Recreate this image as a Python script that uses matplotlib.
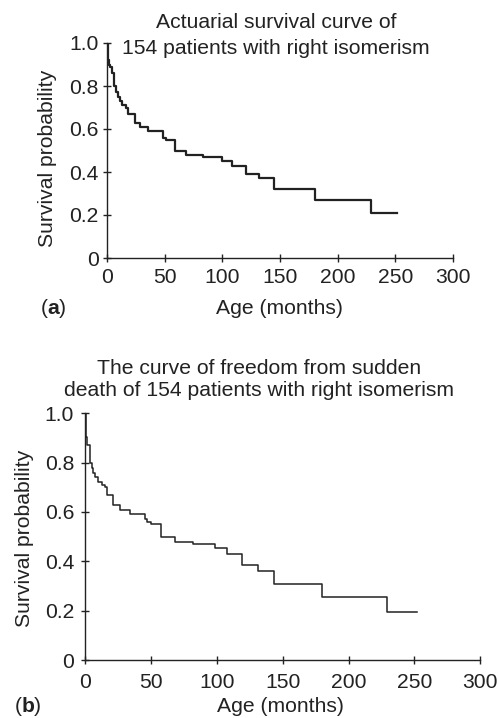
import matplotlib
matplotlib.use('Agg')
import matplotlib.pyplot as plt

# panel (a) - actuarial survival
age_a = [0, 0.5, 1.5, 2.6, 4.1, 6.5, 8.0, 9.8, 11.3, 12.7, 16.5, 18.5, 24.3, 28.6,
         35.9, 48.3, 50.9, 59.0, 68.6, 83.6, 99.5, 108.2, 120.6, 132.2, 144.4,
         180.5, 228.8, 251.4]
surv_a = [1.0, 0.92, 0.90, 0.89, 0.86, 0.80, 0.77, 0.75, 0.73, 0.71, 0.70, 0.67, 0.63,
          0.61, 0.59, 0.56, 0.55, 0.50, 0.48, 0.47, 0.45, 0.43, 0.39, 0.37, 0.32,
          0.27, 0.21, 0.21]

# panel (b) - freedom from sudden death
age_b = [0, 0.3, 1.5, 3.5, 4.8, 6.1, 7.3, 9.4, 12.4, 14.9, 16.7, 21.3, 26.3, 33.9,
         45.3, 46.6, 49.6, 57.2, 68.1, 82.0, 98.5, 107.4, 119.3, 131.4, 143.3,
         180.0, 228.9, 252.2]
surv_b = [1.0, 0.905, 0.87, 0.80, 0.78, 0.76, 0.74, 0.72, 0.71, 0.70, 0.67, 0.63, 0.61,
          0.59, 0.57, 0.56, 0.55, 0.50, 0.48, 0.47, 0.455, 0.43, 0.385, 0.36, 0.31,
          0.255, 0.196, 0.196]

xticks = [0, 50, 100, 150, 200, 250, 300]
yticks = [0, 0.2, 0.4, 0.6, 0.8, 1.0]
ylabels = ['0', '0.2', '0.4', '0.6', '0.8', '1.0']

plt.rcParams['font.family'] = ['Liberation Sans', 'DejaVu Sans']
plt.rcParams['mathtext.fontset'] = 'custom'
plt.rcParams['mathtext.rm'] = 'Liberation Sans'
plt.rcParams['mathtext.bf'] = 'Liberation Sans:bold'
fs = 15.2
col = '#222222'

fig = plt.figure(figsize=(4.99, 7.18), dpi=100)
W, H = 499, 718

def setup(ax, xpad, ypad):
    ax.set_xlim(0, 300)
    ax.set_ylim(0, 1.0)
    ax.set_xticks(xticks)
    ax.set_yticks(yticks)
    ax.set_yticklabels(ylabels)
    for s in ['top', 'right']:
        ax.spines[s].set_visible(False)
    for s in ['left', 'bottom']:
        ax.spines[s].set_linewidth(1.0)
        ax.spines[s].set_color(col)
    ax.tick_params(direction='inout', length=6, width=1.0, colors=col,
                   labelsize=fs, labelcolor=col)
    ax.tick_params(axis='x', pad=xpad)
    ax.tick_params(axis='y', pad=ypad)
    ax.patch.set_alpha(0)

# (a)
ax1 = fig.add_axes([107/W, 1-258/H, 346/W, 215/H])
setup(ax1, 4, 3)
ax1.step(age_a, surv_a, where='post', color=col, lw=1.6)
fig.text(276/W, 1-22/H, 'Actuarial survival curve of', ha='center', va='center', fontsize=fs, color=col)
fig.text(276/W, 1-48/H, '154 patients with right isomerism', ha='center', va='center', fontsize=fs, color=col)
fig.text(48/W, 1-158/H, 'Survival probability', rotation=90, ha='center', va='center', fontsize=fs, color=col)
fig.text(279/W, 1-308/H, 'Age (months)', ha='center', va='center', fontsize=fs, color=col)
fig.text(40/W, 1-308/H, r'($\mathbf{a}$)', ha='left', va='center', fontsize=fs, color=col)

# (b)
ax2 = fig.add_axes([85.3/W, 1-660/H, 395/W, 246.7/H])
setup(ax2, 6, 5)
ax2.step(age_b, surv_b, where='post', color=col, lw=1.1)
fig.text(259/W, 1-368/H, 'The curve of freedom from sudden', ha='center', va='center', fontsize=fs, color=col)
fig.text(259/W, 1-391/H, 'death of 154 patients with right isomerism', ha='center', va='center', fontsize=fs, color=col)
fig.text(25/W, 1-538/H, 'Survival probability', rotation=90, ha='center', va='center', fontsize=fs, color=col)
fig.text(280/W, 1-706/H, 'Age (months)', ha='center', va='center', fontsize=fs, color=col)
fig.text(14/W, 1-706/H, r'($\mathbf{b}$)', ha='left', va='center', fontsize=fs, color=col)

fig.savefig('out.png', dpi=100)
